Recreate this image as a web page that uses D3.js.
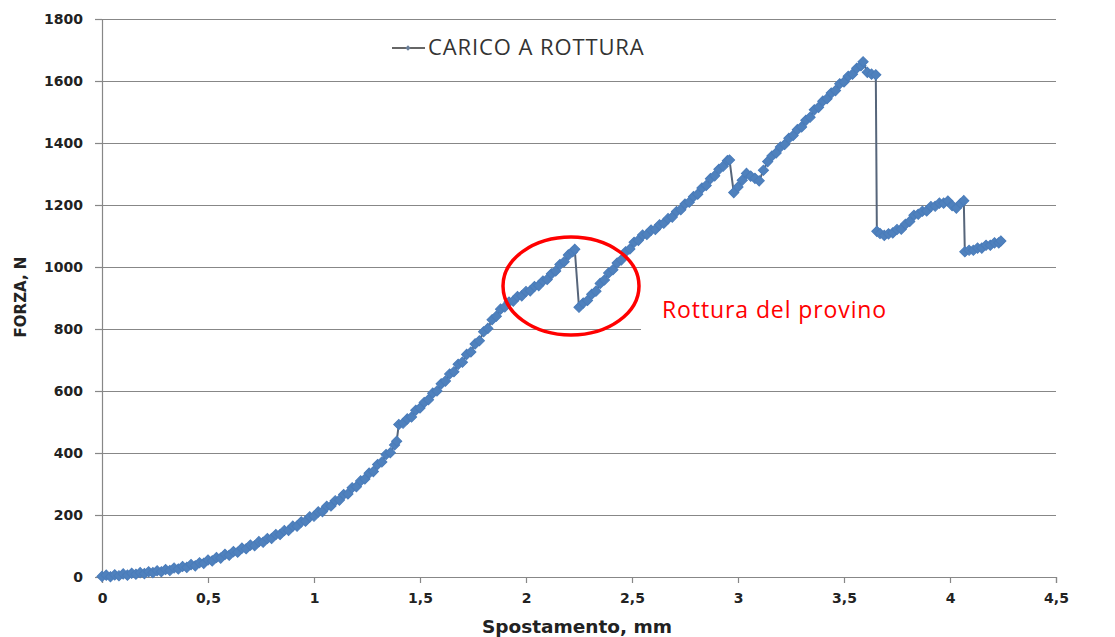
<!DOCTYPE html>
<html>
<head>
<meta charset="utf-8">
<script src="https://cdn.jsdelivr.net/npm/d3@7"></script>
<style>
  body { margin: 0; background: #fff; }
  svg { display: block; }
</style>
</head>
<body>
<div id="chart"></div>
<script>
// displacement (mm) and load (N)
const spostamento = [
  0.00, 0.02, 0.04, 0.06, 0.08, 0.10, 0.12, 0.14, 0.16, 0.18, 0.20, 0.22, 0.24, 0.26, 0.28, 0.30,
  0.32, 0.34, 0.36, 0.38, 0.40, 0.42, 0.44, 0.46, 0.48, 0.50, 0.52, 0.54, 0.56, 0.58, 0.60, 0.62,
  0.64, 0.66, 0.68, 0.70, 0.72, 0.74, 0.76, 0.78, 0.80, 0.82, 0.84, 0.86, 0.88, 0.90, 0.92, 0.94,
  0.96, 0.98, 1.00, 1.02, 1.04, 1.06, 1.08, 1.10, 1.12, 1.14, 1.16, 1.18, 1.20, 1.22, 1.24, 1.26,
  1.28, 1.30, 1.32, 1.34, 1.36, 1.38, 1.39, 1.40, 1.42, 1.44, 1.46, 1.48, 1.50, 1.52, 1.54, 1.56,
  1.58, 1.60, 1.62, 1.64, 1.66, 1.68, 1.70, 1.72, 1.74, 1.76, 1.78, 1.80, 1.82, 1.84, 1.86, 1.88,
  1.90, 1.92, 1.94, 1.96, 1.98, 2.00, 2.02, 2.04, 2.06, 2.08, 2.10, 2.12, 2.14, 2.16, 2.18, 2.20,
  2.22, 2.23, 2.25, 2.27, 2.29, 2.31, 2.33, 2.35, 2.37, 2.39, 2.41, 2.43, 2.45, 2.47, 2.49, 2.51,
  2.53, 2.55, 2.57, 2.59, 2.61, 2.63, 2.65, 2.67, 2.69, 2.71, 2.73, 2.75, 2.77, 2.79, 2.81, 2.83,
  2.85, 2.87, 2.89, 2.91, 2.93, 2.95, 2.96, 2.98, 3.00, 3.02, 3.04, 3.06, 3.08, 3.10, 3.12, 3.14,
  3.16, 3.18, 3.20, 3.22, 3.24, 3.26, 3.28, 3.30, 3.32, 3.34, 3.36, 3.38, 3.40, 3.42, 3.44, 3.46,
  3.48, 3.50, 3.52, 3.54, 3.56, 3.58, 3.59, 3.61, 3.63, 3.65, 3.655, 3.67, 3.69, 3.71, 3.73, 3.75,
  3.77, 3.79, 3.81, 3.83, 3.85, 3.87, 3.89, 3.91, 3.93, 3.95, 3.97, 3.99, 4.01, 4.03, 4.05, 4.065,
  4.07, 4.09, 4.11, 4.13, 4.15, 4.17, 4.19, 4.21, 4.23, 4.24
];
const forza = [
  2, 6, 1, 7, 4, 10, 6, 12, 9, 14, 11, 17, 14, 20, 17, 24,
  21, 29, 26, 34, 31, 40, 36, 46, 44, 55, 52, 63, 61, 73, 70, 82,
  80, 93, 91, 103, 101, 114, 112, 124, 124, 137, 137, 150, 150, 164, 164, 178,
  180, 194, 196, 210, 211, 228, 229, 246, 248, 266, 268, 288, 291, 310, 316, 335,
  340, 363, 371, 395, 401, 426, 438, 492, 496, 510, 516, 538, 545, 563, 572, 593,
  600, 623, 632, 655, 662, 686, 693, 718, 726, 752, 762, 791, 802, 830, 841, 864,
  871, 887, 890, 905, 907, 921, 923, 937, 940, 955, 960, 978, 987, 1008, 1017, 1039,
  1049, 1057, 870, 884, 892, 912, 922, 947, 958, 981, 991, 1013, 1023, 1049, 1058, 1080,
  1086, 1103, 1105, 1119, 1121, 1136, 1141, 1156, 1161, 1179, 1185, 1203, 1209, 1227, 1235, 1255,
  1263, 1285, 1294, 1315, 1325, 1343, 1345, 1240, 1258, 1280, 1302, 1293, 1286, 1278, 1312, 1340,
  1358, 1368, 1387, 1395, 1415, 1424, 1443, 1452, 1473, 1483, 1507, 1515, 1535, 1543, 1561, 1569,
  1591, 1597, 1615, 1622, 1641, 1649, 1662, 1628, 1622, 1620, 1115, 1108, 1102, 1107, 1110, 1121,
  1122, 1138, 1147, 1167, 1170, 1180, 1181, 1195, 1196, 1206, 1206, 1213, 1198, 1190, 1205, 1214,
  1049, 1054, 1054, 1061, 1061, 1070, 1070, 1078, 1078, 1084
];

const xTicks = [0, 0.5, 1, 1.5, 2, 2.5, 3, 3.5, 4, 4.5];
const yTicks = [0, 200, 400, 600, 800, 1000, 1200, 1400, 1600, 1800];
const seriesName = "CARICO A ROTTURA";
const noteText = "Rottura del provino";

const width = 1115;
const height = 637;

const data = spostamento.map((d, i) => ({ x: d, y: forza[i] }));

const x = d3.scaleLinear().domain([0, 4.5]).range([102, 1056]);
const y = d3.scaleLinear().domain([0, 1800]).range([577, 19]);

const itLocale = d3.formatLocale({ decimal: ",", thousands: "", grouping: [3], currency: ["", ""] });
const fmt = itLocale.format("");

const svg = d3.select("#chart").append("svg")
    .attr("width", width)
    .attr("height", height);

svg.append("rect").attr("width", width).attr("height", height).attr("fill", "#fff");

// horizontal gridlines
svg.append("g")
  .selectAll("line")
  .data(yTicks.slice(1))
  .enter().append("line")
    .attr("x1", x(0))
    .attr("x2", x(4.5))
    .attr("y1", d => y(d) + 0.5)
    .attr("y2", d => y(d) + 0.5)
    .attr("stroke", "#878787")
    .attr("stroke-width", 1.2);

// y axis
const gy = svg.append("g")
    .attr("transform", `translate(${x(0)},0)`)
    .call(d3.axisLeft(y).tickValues(yTicks).tickSize(7).tickPadding(12).tickFormat(d => d));
gy.select(".domain").attr("stroke", "#878787").attr("stroke-width", 1.2);
gy.selectAll(".tick line").attr("stroke", "#878787").attr("stroke-width", 1.2);
gy.selectAll(".tick text")
    .attr("font-family", "DejaVu Sans")
    .attr("font-weight", "bold")
    .attr("font-size", 14)
    .attr("fill", "#222");

// x axis
const gx = svg.append("g")
    .attr("transform", `translate(0,${y(0)})`)
    .call(d3.axisBottom(x).tickValues(xTicks).tickSize(6).tickPadding(10).tickFormat(fmt));
gx.select(".domain").attr("stroke", "#878787").attr("stroke-width", 1.2);
gx.selectAll(".tick line").attr("stroke", "#878787").attr("stroke-width", 1.2);
gx.selectAll(".tick text")
    .attr("font-family", "DejaVu Sans")
    .attr("font-weight", "bold")
    .attr("font-size", 14)
    .attr("fill", "#222");

// axis titles
svg.append("text")
    .attr("x", 577)
    .attr("y", 633)
    .attr("text-anchor", "middle")
    .attr("font-family", "DejaVu Sans")
    .attr("font-weight", "bold")
    .attr("font-size", 18.5)
    .attr("fill", "#222")
    .text("Spostamento, mm");

svg.append("text")
    .attr("transform", "translate(26,297) rotate(-90)")
    .attr("text-anchor", "middle")
    .attr("font-family", "DejaVu Sans")
    .attr("font-weight", "bold")
    .attr("font-size", 15)
    .attr("fill", "#222")
    .text("FORZA, N");

// white box behind the note
svg.append("rect")
    .attr("x", 641)
    .attr("y", 285)
    .attr("width", width - 641)
    .attr("height", 60)
    .attr("fill", "#fff");

// series line + markers
const line = d3.line().x(d => x(d.x)).y(d => y(d.y));
svg.append("path")
    .datum(data)
    .attr("fill", "none")
    .attr("stroke", "#56657a")
    .attr("stroke-width", 2)
    .attr("d", line);

const diamond = d3.symbol().type(d3.symbolSquare).size(52);
svg.append("g")
  .selectAll("path")
  .data(data)
  .enter().append("path")
    .attr("d", diamond)
    .attr("transform", d => `translate(${x(d.x)},${y(d.y)}) rotate(45)`)
    .attr("fill", "#4f81bd")
    .attr("stroke", "#4a7cba")
    .attr("stroke-width", 1);

// legend
const lg = svg.append("g").attr("transform", "translate(392,48)");
lg.append("line").attr("x1", 0).attr("x2", 33).attr("y1", 0).attr("y2", 0)
    .attr("stroke", "#666").attr("stroke-width", 2);
lg.append("path").attr("d", d3.symbol().type(d3.symbolSquare).size(14))
    .attr("transform", "translate(16,0) rotate(45)")
    .attr("fill", "#6a7f99");
lg.append("text")
    .attr("x", 36)
    .attr("y", 7)
    .attr("font-family", "Open Sans")
    .attr("font-size", 22)
    .attr("letter-spacing", 0.9)
    .attr("fill", "#333")
    .text(seriesName);

// red ellipse around the first break
svg.append("ellipse")
    .attr("cx", 571)
    .attr("cy", 286)
    .attr("rx", 68)
    .attr("ry", 49)
    .attr("fill", "none")
    .attr("stroke", "#ff0000")
    .attr("stroke-width", 3.5);

svg.append("text")
    .attr("x", 662)
    .attr("y", 318)
    .attr("font-family", "Open Sans")
    .attr("font-size", 23)
    .attr("letter-spacing", 0.9)
    .attr("fill", "#ff0000")
    .text(noteText);
</script>
</body>
</html>
